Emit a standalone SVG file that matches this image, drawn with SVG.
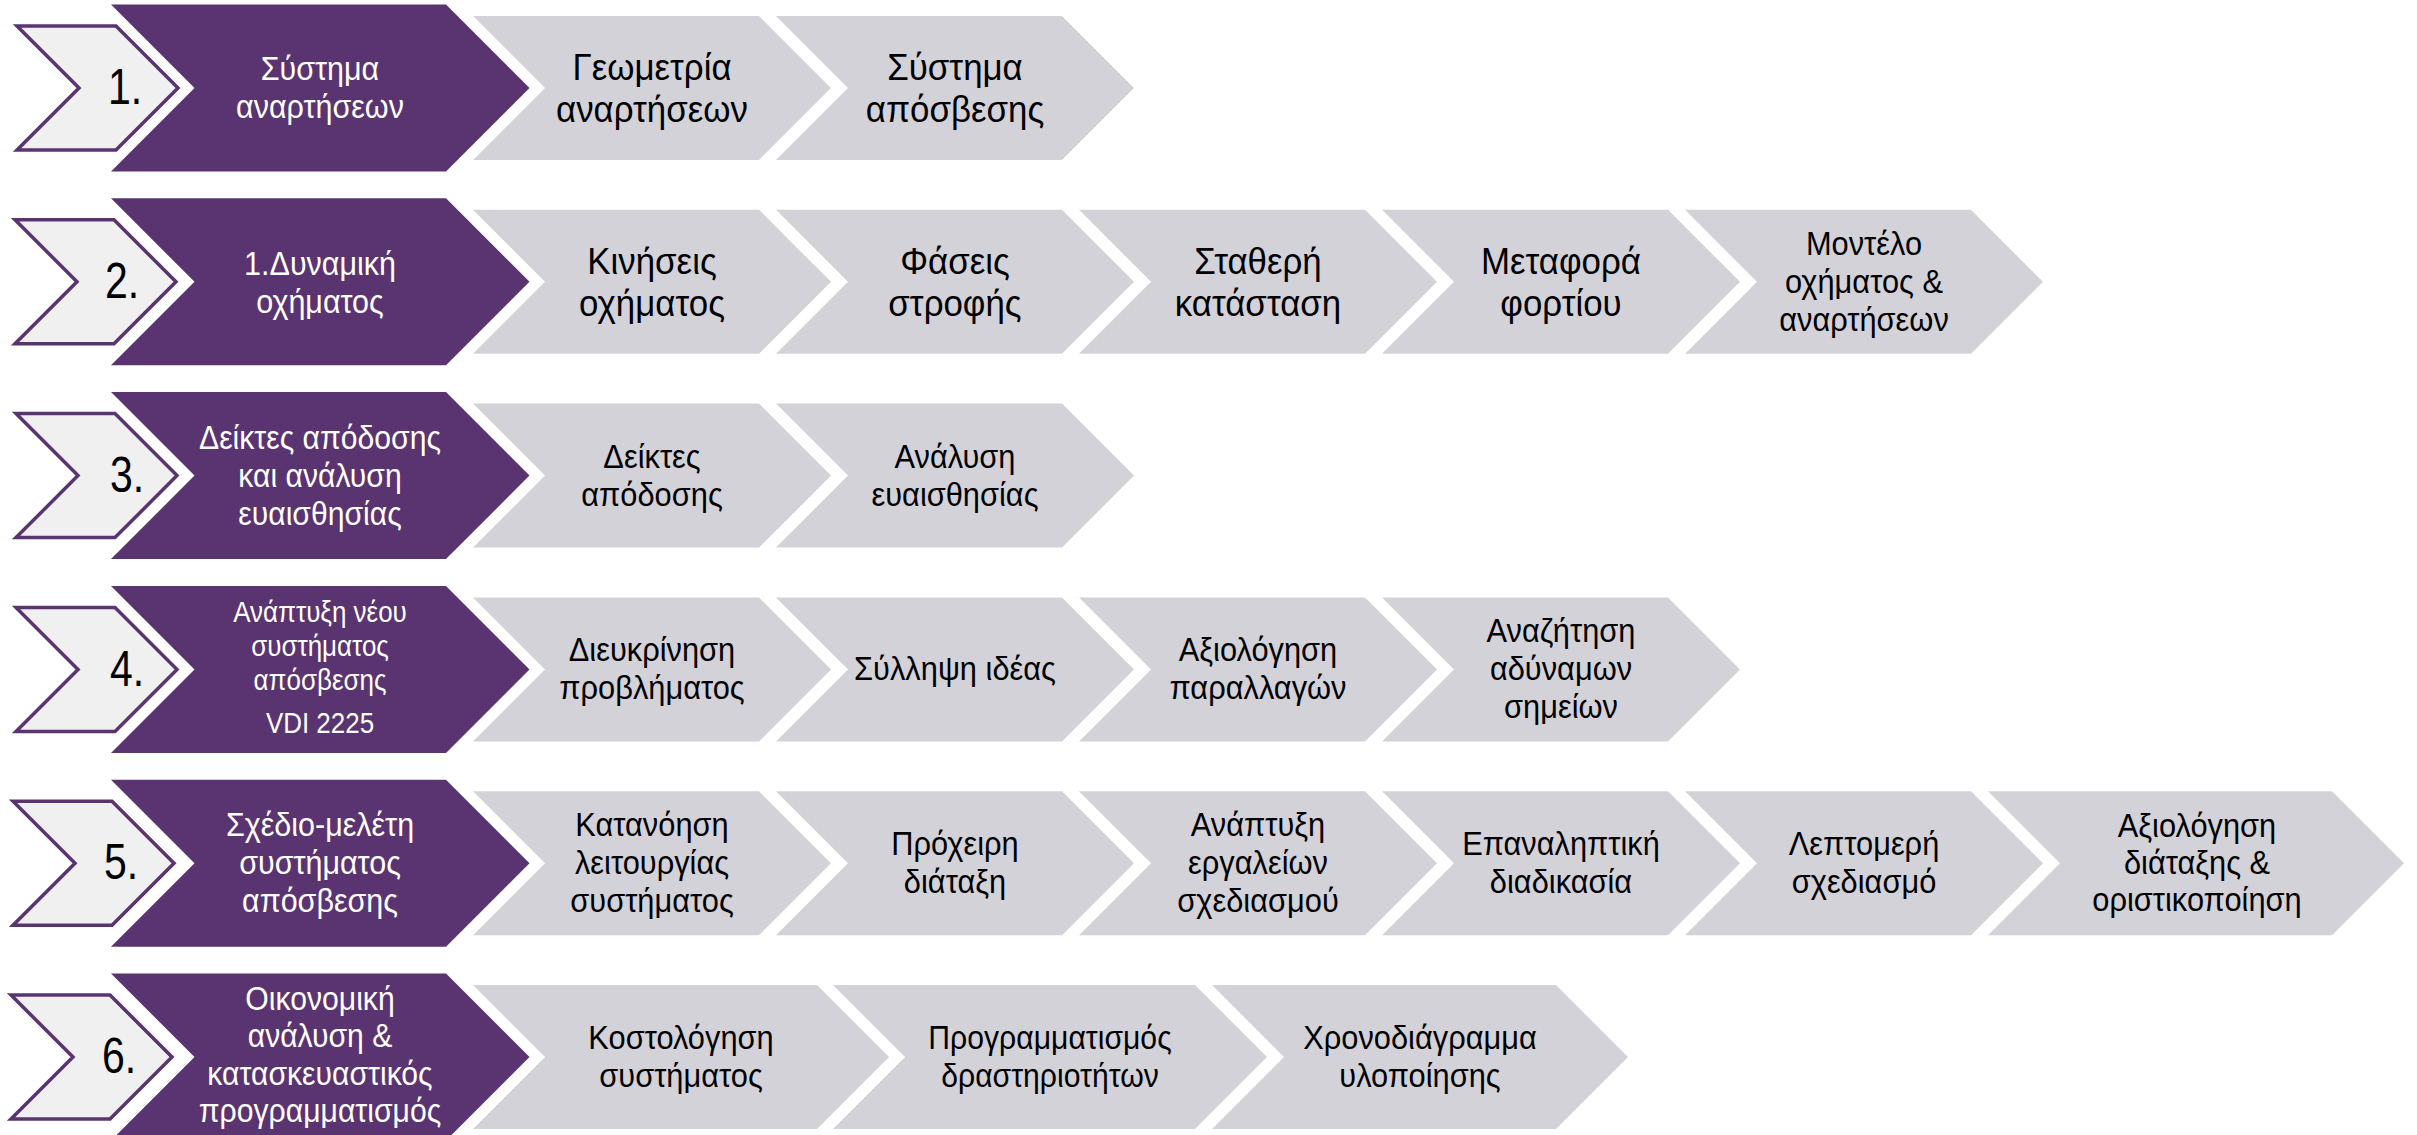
<svg xmlns="http://www.w3.org/2000/svg" width="2417" height="1135" viewBox="0 0 2417 1135">
<style>
.bg{fill:#ffffff}
.num-shape{fill:#f0f0f0;stroke:#5a3470;stroke-width:3.5;stroke-linejoin:miter}
.head{fill:#5a3470}
.step{fill:#d4d2d9}
text{font-family:"Liberation Sans",Arial,sans-serif;text-anchor:middle}
.num{font-size:50px;fill:#000}
.ht{font-size:33.5px;fill:#ffffff}
.ht4{font-size:29.5px;fill:#ffffff}
.lg{font-size:37.5px;fill:#000}
.md{font-size:33.5px;fill:#000}
</style>
<defs>
<path id="small" d="M0,-62 H99 L161,0 L99,62 H0 L62,0 Z"/>
<path id="purple" d="M0,-83.5 H335 L418.5,0 L335,83.5 H0 L83.5,0 Z"/>
<path id="chev" d="M0,-72 H286 L358,0 L286,72 H0 L72,0 Z"/>
<path id="chevw" d="M0,-72 H344 L416,0 L344,72 H0 L72,0 Z"/>
<path id="chevx" d="M0,-72 H362 L434,0 L362,72 H0 L72,0 Z"/>
</defs>
<rect class="bg" x="0" y="0" width="2417" height="1135"/>

<!-- Row 1 -->
<g id="n1">
<use href="#small" class="num-shape" x="17" y="88"/>
<text class="num" transform="translate(125 0) scale(0.82 1)" x="0" y="104">1.</text>
</g>
<g id="h1">
<use href="#purple" class="head" x="111" y="88"/>
<text class="ht" transform="translate(320 0) scale(0.91 1)"><tspan x="0" y="80">Σύστημα</tspan><tspan x="0" y="118">αναρτήσεων</tspan></text>
</g>
<g id="s1a">
<use href="#chev" class="step" x="473" y="88"/>
<text class="lg" transform="translate(652 0) scale(0.93 1)"><tspan x="0" y="80">Γεωμετρία</tspan><tspan x="0" y="122">αναρτήσεων</tspan></text>
</g>
<g id="s1b">
<use href="#chev" class="step" x="776" y="88"/>
<text class="lg" transform="translate(955 0) scale(0.93 1)"><tspan x="0" y="80">Σύστημα</tspan><tspan x="0" y="122">απόσβεσης</tspan></text>
</g>

<!-- Row 2 -->
<g id="n2">
<use href="#small" class="num-shape" x="15" y="281.8"/>
<text class="num" transform="translate(122 0) scale(0.82 1)" x="0" y="298">2.</text>
</g>
<g id="h2">
<use href="#purple" class="head" x="111" y="281.8"/>
<text class="ht" transform="translate(320 0) scale(0.91 1)"><tspan x="0" y="275">1.Δυναμική</tspan><tspan x="0" y="313">οχήματος</tspan></text>
</g>
<g id="s2a">
<use href="#chev" class="step" x="473" y="281.8"/>
<text class="lg" transform="translate(652 0) scale(0.93 1)"><tspan x="0" y="274">Κινήσεις</tspan><tspan x="0" y="316">οχήματος</tspan></text>
</g>
<g id="s2b">
<use href="#chev" class="step" x="776" y="281.8"/>
<text class="lg" transform="translate(955 0) scale(0.93 1)"><tspan x="0" y="274">Φάσεις</tspan><tspan x="0" y="316">στροφής</tspan></text>
</g>
<g id="s2c">
<use href="#chev" class="step" x="1079" y="281.8"/>
<text class="lg" transform="translate(1258 0) scale(0.93 1)"><tspan x="0" y="274">Σταθερή</tspan><tspan x="0" y="316">κατάσταση</tspan></text>
</g>
<g id="s2d">
<use href="#chev" class="step" x="1382" y="281.8"/>
<text class="lg" transform="translate(1561 0) scale(0.93 1)"><tspan x="0" y="274">Μεταφορά</tspan><tspan x="0" y="316">φορτίου</tspan></text>
</g>
<g id="s2e">
<use href="#chev" class="step" x="1685" y="281.8"/>
<text class="md" transform="translate(1864 0) scale(0.92 1)"><tspan x="0" y="255">Μοντέλο</tspan><tspan x="0" y="293">οχήματος &amp;</tspan><tspan x="0" y="331">αναρτήσεων</tspan></text>
</g>

<!-- Row 3 -->
<g id="n3">
<use href="#small" class="num-shape" x="16" y="475.6"/>
<text class="num" transform="translate(127 0) scale(0.82 1)" x="0" y="492">3.</text>
</g>
<g id="h3">
<use href="#purple" class="head" x="111" y="475.6"/>
<text class="ht" transform="translate(320 0) scale(0.9 1)"><tspan x="0" y="449">Δείκτες απόδοσης</tspan><tspan x="0" y="487">και ανάλυση</tspan><tspan x="0" y="525">ευαισθησίας</tspan></text>
</g>
<g id="s3a">
<use href="#chev" class="step" x="473" y="475.6"/>
<text class="md" transform="translate(652 0) scale(0.92 1)"><tspan x="0" y="468">Δείκτες</tspan><tspan x="0" y="506">απόδοσης</tspan></text>
</g>
<g id="s3b">
<use href="#chev" class="step" x="776" y="475.6"/>
<text class="md" transform="translate(955 0) scale(0.92 1)"><tspan x="0" y="468">Ανάλυση</tspan><tspan x="0" y="506">ευαισθησίας</tspan></text>
</g>

<!-- Row 4 -->
<g id="n4">
<use href="#small" class="num-shape" x="16" y="669.4"/>
<text class="num" transform="translate(127 0) scale(0.82 1)" x="0" y="686">4.</text>
</g>
<g id="h4">
<use href="#purple" class="head" x="111" y="669.4"/>
<text class="ht4" transform="translate(320 0) scale(0.88 1)"><tspan x="0" y="622">Ανάπτυξη νέου</tspan><tspan x="0" y="656">συστήματος</tspan><tspan x="0" y="690">απόσβεσης</tspan><tspan x="0" y="733">VDI 2225</tspan></text>
</g>
<g id="s4a">
<use href="#chev" class="step" x="473" y="669.4"/>
<text class="md" transform="translate(652 0) scale(0.92 1)"><tspan x="0" y="661">Διευκρίνηση</tspan><tspan x="0" y="699">προβλήματος</tspan></text>
</g>
<g id="s4b">
<use href="#chev" class="step" x="776" y="669.4"/>
<text class="md" transform="translate(955 0) scale(0.92 1)"><tspan x="0" y="680">Σύλληψη ιδέας</tspan></text>
</g>
<g id="s4c">
<use href="#chev" class="step" x="1079" y="669.4"/>
<text class="md" transform="translate(1258 0) scale(0.92 1)"><tspan x="0" y="661">Αξιολόγηση</tspan><tspan x="0" y="699">παραλλαγών</tspan></text>
</g>
<g id="s4d">
<use href="#chev" class="step" x="1382" y="669.4"/>
<text class="md" transform="translate(1561 0) scale(0.92 1)"><tspan x="0" y="642">Αναζήτηση</tspan><tspan x="0" y="680">αδύναμων</tspan><tspan x="0" y="718">σημείων</tspan></text>
</g>

<!-- Row 5 -->
<g id="n5">
<use href="#small" class="num-shape" x="13" y="863.2"/>
<text class="num" transform="translate(121 0) scale(0.82 1)" x="0" y="879">5.</text>
</g>
<g id="h5">
<use href="#purple" class="head" x="111" y="863.2"/>
<text class="ht" transform="translate(320 0) scale(0.91 1)"><tspan x="0" y="836">Σχέδιο-μελέτη</tspan><tspan x="0" y="874">συστήματος</tspan><tspan x="0" y="912">απόσβεσης</tspan></text>
</g>
<g id="s5a">
<use href="#chev" class="step" x="473" y="863.2"/>
<text class="md" transform="translate(652 0) scale(0.92 1)"><tspan x="0" y="836">Κατανόηση</tspan><tspan x="0" y="874">λειτουργίας</tspan><tspan x="0" y="912">συστήματος</tspan></text>
</g>
<g id="s5b">
<use href="#chev" class="step" x="776" y="863.2"/>
<text class="md" transform="translate(955 0) scale(0.92 1)"><tspan x="0" y="855">Πρόχειρη</tspan><tspan x="0" y="893">διάταξη</tspan></text>
</g>
<g id="s5c">
<use href="#chev" class="step" x="1079" y="863.2"/>
<text class="md" transform="translate(1258 0) scale(0.92 1)"><tspan x="0" y="836">Ανάπτυξη</tspan><tspan x="0" y="874">εργαλείων</tspan><tspan x="0" y="912">σχεδιασμού</tspan></text>
</g>
<g id="s5d">
<use href="#chev" class="step" x="1382" y="863.2"/>
<text class="md" transform="translate(1561 0) scale(0.92 1)"><tspan x="0" y="855">Επαναληπτική</tspan><tspan x="0" y="893">διαδικασία</tspan></text>
</g>
<g id="s5e">
<use href="#chev" class="step" x="1685" y="863.2"/>
<text class="md" transform="translate(1864 0) scale(0.92 1)"><tspan x="0" y="855">Λεπτομερή</tspan><tspan x="0" y="893">σχεδιασμό</tspan></text>
</g>
<g id="s5f">
<use href="#chevw" class="step" x="1988" y="863.2"/>
<text class="md" transform="translate(2197 0) scale(0.92 1)"><tspan x="0" y="837">Αξιολόγηση</tspan><tspan x="0" y="874">διάταξης &amp;</tspan><tspan x="0" y="911">οριστικοποίηση</tspan></text>
</g>

<!-- Row 6 -->
<g id="n6">
<use href="#small" class="num-shape" x="11" y="1057"/>
<text class="num" transform="translate(119 0) scale(0.82 1)" x="0" y="1073">6.</text>
</g>
<g id="h6">
<use href="#purple" class="head" x="111" y="1057"/>
<text class="ht" transform="translate(320 0) scale(0.9 1)"><tspan x="0" y="1010">Οικονομική</tspan><tspan x="0" y="1047.5">ανάλυση &amp;</tspan><tspan x="0" y="1085">κατασκευαστικός</tspan><tspan x="0" y="1122.5">προγραμματισμός</tspan></text>
</g>
<g id="s6a">
<use href="#chevw" class="step" x="473" y="1057"/>
<text class="md" transform="translate(681 0) scale(0.92 1)"><tspan x="0" y="1049">Κοστολόγηση</tspan><tspan x="0" y="1087">συστήματος</tspan></text>
</g>
<g id="s6b">
<use href="#chevx" class="step" x="833" y="1057"/>
<text class="md" transform="translate(1050 0) scale(0.9 1)"><tspan x="0" y="1049">Προγραμματισμός</tspan><tspan x="0" y="1087">δραστηριοτήτων</tspan></text>
</g>
<g id="s6c">
<use href="#chevw" class="step" x="1212" y="1057"/>
<text class="md" transform="translate(1420 0) scale(0.92 1)"><tspan x="0" y="1049">Χρονοδιάγραμμα</tspan><tspan x="0" y="1087">υλοποίησης</tspan></text>
</g>

<g id="connectors"></g>
</svg>
